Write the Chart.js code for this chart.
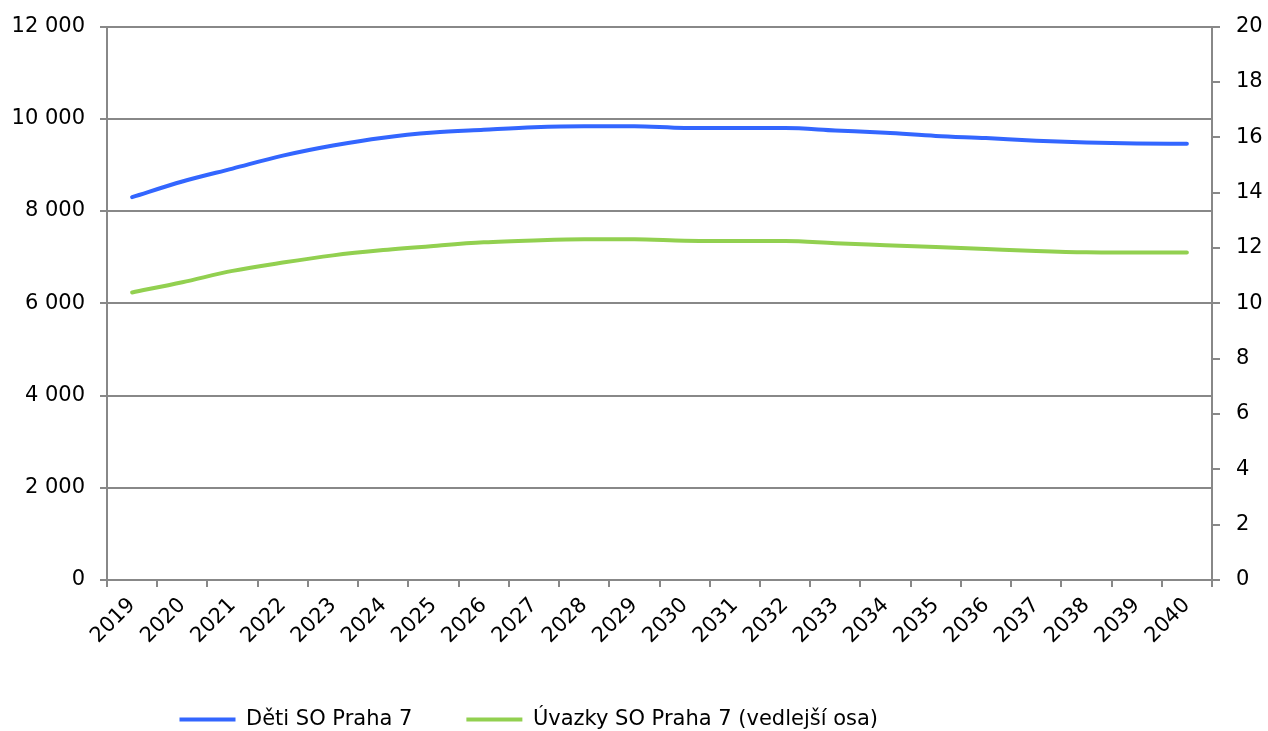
<!DOCTYPE html>
<html>
<head>
<meta charset="utf-8">
<script src="https://cdn.jsdelivr.net/npm/chart.js@4/dist/chart.umd.min.js"></script>
<style>
html,body{margin:0;padding:0;background:#fff;}
#wrap{width:1268px;height:731px;position:relative;}
</style>
</head>
<body>
<div id="wrap"><canvas id="c" width="1268" height="731"></canvas></div>
<script>
const categories = ['2019','2020','2021','2022','2023','2024','2025','2026','2027','2028','2029','2030','2031','2032','2033','2034','2035','2036','2037','2038','2039','2040'];
const detiValues = [8300, 8640, 8920, 9200, 9420, 9590, 9700, 9760, 9815, 9837, 9837, 9800, 9800, 9800, 9747, 9697, 9628, 9580, 9524, 9487, 9466, 9458];
const uvazkyValues = [10.39, 10.76, 11.17, 11.47, 11.73, 11.92, 12.07, 12.20, 12.27, 12.31, 12.31, 12.26, 12.25, 12.25, 12.17, 12.10, 12.03, 11.96, 11.89, 11.84, 11.83, 11.83];
const leftTicks = [0, 2000, 4000, 6000, 8000, 10000, 12000];
const rightTicks = [0, 2, 4, 6, 8, 10, 12, 14, 16, 18, 20];
const seriesNames = ['Děti SO Praha 7', 'Úvazky SO Praha 7 (vedlejší osa)'];

const FONT = {family: '"DejaVu Sans", Verdana, sans-serif', size: 21};
const YFONT = {family: '"DejaVu Sans", Verdana, sans-serif', size: 21, lineHeight: 1.0};
const GRID = '#888888';

function fmt(v){ return String(v).replace(/\B(?=(\d{3})+(?!\d))/g, ' '); }

const legendShift = {
  id: 'legendShift',
  afterLayout(chart) {
    const lg = chart.legend;
    if (!lg || !lg.lineWidths) return;
    const pad = lg.options.labels.padding;
    const contentStart = (lg.left + pad + lg.right - lg.lineWidths[0]) / 2;
    const boxW = lg.options.labels.boxWidth;
    const textStart = contentStart + boxW + FONT.size / 2;
    const dx = 246 - textStart;
    lg.left += dx; lg.right += dx;
  }
};

new Chart(document.getElementById('c'), {
  type: 'line',
  data: {
    labels: categories,
    datasets: [
      {label: seriesNames[0], data: detiValues, yAxisID: 'y', borderColor: '#3366FF', backgroundColor: '#3366FF', borderWidth: 4, pointRadius: 0, cubicInterpolationMode: 'monotone', borderCapStyle: 'round'},
      {label: seriesNames[1], data: uvazkyValues, yAxisID: 'y2', borderColor: '#92D050', backgroundColor: '#92D050', borderWidth: 4, pointRadius: 0, cubicInterpolationMode: 'monotone', borderCapStyle: 'round'}
    ]
  },
  plugins: [legendShift],
  options: {
    responsive: false,
    animation: false,
    events: [],
    layout: {padding: {top: 0, left: 0, right: 0, bottom: -9}},
    plugins: {
      tooltip: {enabled: false},
      legend: {
        position: 'bottom',
        labels: {
          font: FONT, color: '#000', boxWidth: 56, boxHeight: 4, padding: 54,
          generateLabels: chart => Chart.defaults.plugins.legend.labels.generateLabels(chart).map(l => Object.assign(l, {lineWidth: 0}))
        }
      }
    },
    scales: {
      x: {
        type: 'category',
        offset: true,
        grid: {offset: true, drawOnChartArea: false, drawTicks: true, tickLength: 7, color: GRID, lineWidth: 2},
        border: {display: true, color: GRID, width: 2},
        ticks: {font: FONT, color: '#000', autoSkip: false, minRotation: 45, maxRotation: 45, padding: 6},
        afterFit: s => { s.height = 75; }
      },
      y: {
        position: 'left',
        min: 0, max: 12000,
        afterBuildTicks: s => { s.ticks = leftTicks.map(v => ({value: v})); },
        grid: {color: GRID, lineWidth: 2, tickLength: 7},
        border: {display: true, color: GRID, width: 2},
        ticks: {font: YFONT, color: '#000', padding: 15, callback: v => fmt(v)},
        afterFit: s => { s.width = 107; }
      },
      y2: {
        position: 'right',
        min: 0, max: 20,
        afterBuildTicks: s => { s.ticks = rightTicks.map(v => ({value: v})); },
        grid: {drawOnChartArea: false, color: GRID, lineWidth: 2, tickLength: 8},
        border: {display: true, color: GRID, width: 2},
        ticks: {font: YFONT, color: '#000', padding: 16},
        afterFit: s => { s.width = 56; }
      }
    }
  }
});
</script>
</body>
</html>
